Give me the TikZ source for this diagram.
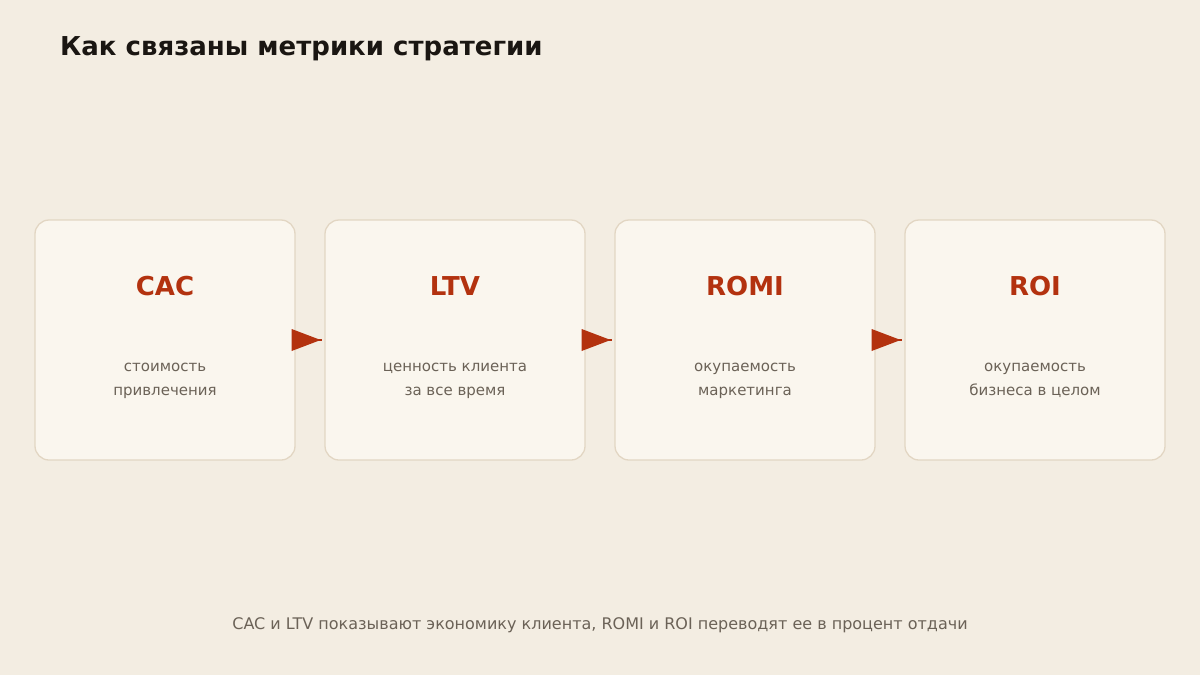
\documentclass[tikz,border=0pt]{standalone}
\usepackage{fontspec}
\setmainfont{DejaVu Sans}
\definecolor{bg}{HTML}{F3EDE2}
\definecolor{boxfill}{HTML}{FAF6EE}
\definecolor{boxline}{HTML}{E2D6C3}
\definecolor{accent}{HTML}{B3320F}
\definecolor{ink}{HTML}{1A1612}
\definecolor{muted}{HTML}{6B6257}
\tikzset{
  card/.style={draw=boxline, line width=1.3pt, fill=boxfill, rounded corners=14pt, minimum width=260pt, minimum height=240pt, inner sep=0pt},
  metric/.style={text=accent, font=\fontsize{26}{30}\selectfont\bfseries, anchor=base},
  desc/.style={text=muted, font=\fontsize{15}{24}\selectfont, align=center, anchor=north},
  flow/.style={draw=accent, line width=2pt},
  head/.style={fill=accent},
}
\begin{document}
\begin{tikzpicture}[x=1pt,y=-1pt]
\useasboundingbox[fill=bg] (0,0) rectangle (1200,675);
\node[anchor=base west, inner sep=0pt, text=ink, font=\fontsize{26}{30}\selectfont\bfseries] (title) at (60,55) {Как связаны метрики стратегии};
\foreach \i/\t/\a/\b in {1/CAC/стоимость/привлечения, 2/LTV/ценность клиента/за все время, 3/ROMI/окупаемость/маркетинга, 4/ROI/окупаемость/бизнеса в целом}{
  \pgfmathsetmacro{\cx}{165+290*(\i-1)}
  \node[card] (c\i) at (\cx,340) {};
  \node[metric] (m\i) at (\cx,295) {\t};
  \node[desc] (d\i) at (\cx,360) {\a\\\b};
}
\foreach \i/\j in {1/2,2/3,3/4}{
  \coordinate (tip\i) at ([xshift=25pt]c\i.east);
  \draw[flow] (c\i.east) -- ([xshift=26pt]c\i.east);
  \fill[head] ([xshift=-4pt,yshift=-11pt]c\i.east) -- (tip\i) -- ([xshift=-4pt,yshift=11pt]c\i.east) -- cycle;
}
\node[anchor=base, text=muted, font=\fontsize{16}{19}\selectfont] (foot) at (600,629) {CAC и LTV показывают экономику клиента, ROMI и ROI переводят ее в процент отдачи};
\end{tikzpicture}
\end{document}
